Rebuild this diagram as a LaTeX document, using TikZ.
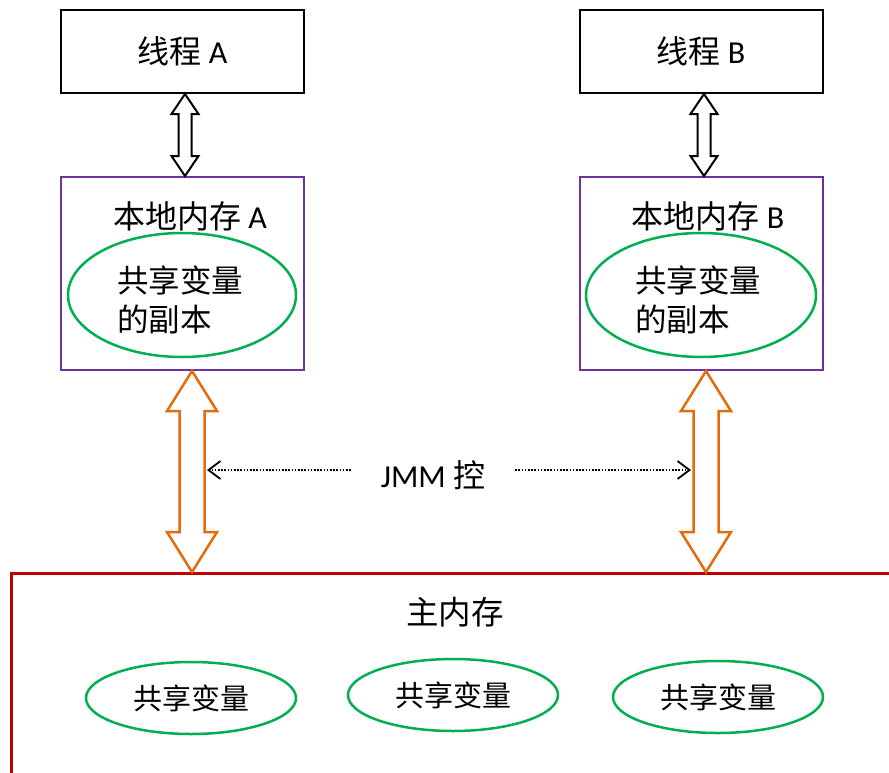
\documentclass[tikz,border=0pt]{standalone}
\usepackage{fontspec}
\setmainfont{Carlito}
\newfontfamily\cjk{Noto Sans CJK SC}
\usetikzlibrary{arrows.meta,calc,positioning,shapes.geometric}

\definecolor{mempurple}{RGB}{112,48,160}
\definecolor{vargreen}{RGB}{0,176,80}
\definecolor{busorange}{RGB}{228,108,10}
\definecolor{mainred}{RGB}{192,0,0}

\tikzset{
  thread/.style={draw=black, line width=2, minimum width=243, minimum height=83, inner sep=0, font=\fontsize{32}{38}\selectfont},
  localmem/.style={draw=mempurple, line width=2, minimum width=243, minimum height=193, inner sep=0},
  varcopy/.style={ellipse, draw=vargreen, line width=2.5, minimum width=228, minimum height=124, inner sep=0},
  sharedvar/.style={ellipse, draw=vargreen, line width=2.5, minimum width=210, minimum height=72, inner sep=0, font=\fontsize{29}{34}\selectfont\cjk},
  title/.style={font=\fontsize{32}{38}\selectfont, inner sep=0},
  blackarrow/.style={draw=black, line width=2, fill=white, line join=miter},
  orangearrow/.style={draw=busorange, line width=2.5, fill=white, line join=miter},
  jmmarrow/.style={line width=2, dash pattern=on 1.6 off 1.6, -{Straight Barb[length=12, width=18, line width=1.8]}}
}

% block arrow: style, top point, bottom point, shaft half width, head half width, head length
\newcommand{\blockarrow}[6]{%
  \draw[#1] let \p1=(#2), \p2=(#3) in
    (\x1,\y1) -- ({\x1+#5},{\y1-#6}) -- ({\x1+#4},{\y1-#6}) -- ({\x1+#4},{\y2+#6})
    -- ({\x1+#5},{\y2+#6}) -- (\x1,\y2) -- ({\x1-#5},{\y2+#6}) -- ({\x1-#4},{\y2+#6})
    -- ({\x1-#4},{\y1-#6}) -- ({\x1-#5},{\y1-#6}) -- cycle;}

\begin{document}
\begin{tikzpicture}[x=1pt, y=-1pt]
\useasboundingbox (0,0) rectangle (889,772);

% threads
\node[thread] (tA) at (182.5,51.5) {{\cjk 线程} A};
\node[thread] (tB) at (701,51.5) {{\cjk 线程} B};

% local memories
\node[localmem] (lA) at (182.5,273.5) {};
\node[localmem] (lB) at (701,273.5) {};
\node[title] (lAt) at (190,216) {{\cjk 本地内存} A};
\node[title] (lBt) at (708,216) {{\cjk 本地内存} B};

\node[varcopy] (cA) at (182,295) {};
\node[varcopy, minimum width=230] (cB) at (701,295) {};
\node[anchor=west, align=left, inner sep=0, font=\fontsize{31.5}{39}\selectfont\cjk] (cAt) at (117,300) {共享变量\\的副本};
\node[anchor=west, align=left, inner sep=0, font=\fontsize{31.5}{39}\selectfont\cjk] (cBt) at (635,300) {共享变量\\的副本};

% main memory
\node[draw=mainred, line width=2.5, anchor=north west, minimum width=900, minimum height=230] (main) at (10,572) {};
\node[title, font=\fontsize{32.5}{38}\selectfont\cjk] (mt) at (455,612) {主内存};
\node[sharedvar] (v1) at (191,698) {共享变量};
\node[sharedvar] (v2) at (453,695) {共享变量};
\node[sharedvar] (v3) at (718,697) {共享变量};

% thread <-> local memory
\blockarrow{blackarrow}{[xshift=2.5]tA.south}{[xshift=2.5]lA.north}{6.5pt}{13.5pt}{20pt}
\blockarrow{blackarrow}{[xshift=3]tB.south}{[xshift=3]lB.north}{6.5pt}{13.5pt}{20pt}

% local memory <-> main memory
\coordinate (oA) at ([xshift=9.5]lA.south);
\coordinate (oB) at ([xshift=5]lB.south);
\blockarrow{orangearrow}{oA}{main.north -| oA}{12.5pt}{25pt}{40pt}
\blockarrow{orangearrow}{oB}{main.north -| oB}{12.5pt}{25pt}{40pt}

% JMM control
\node[font=\fontsize{32}{38}\selectfont, inner sep=0] (jmm) at (433,475) {JMM {\cjk 控}};
\coordinate (eA) at (207,470);
\coordinate (eB) at (691,470);
\draw[jmmarrow] ([xshift=-30]jmm.west |- eA) -- (eA);
\draw[jmmarrow] ([xshift=30]jmm.east |- eB) -- (eB);

\end{tikzpicture}
\end{document}
